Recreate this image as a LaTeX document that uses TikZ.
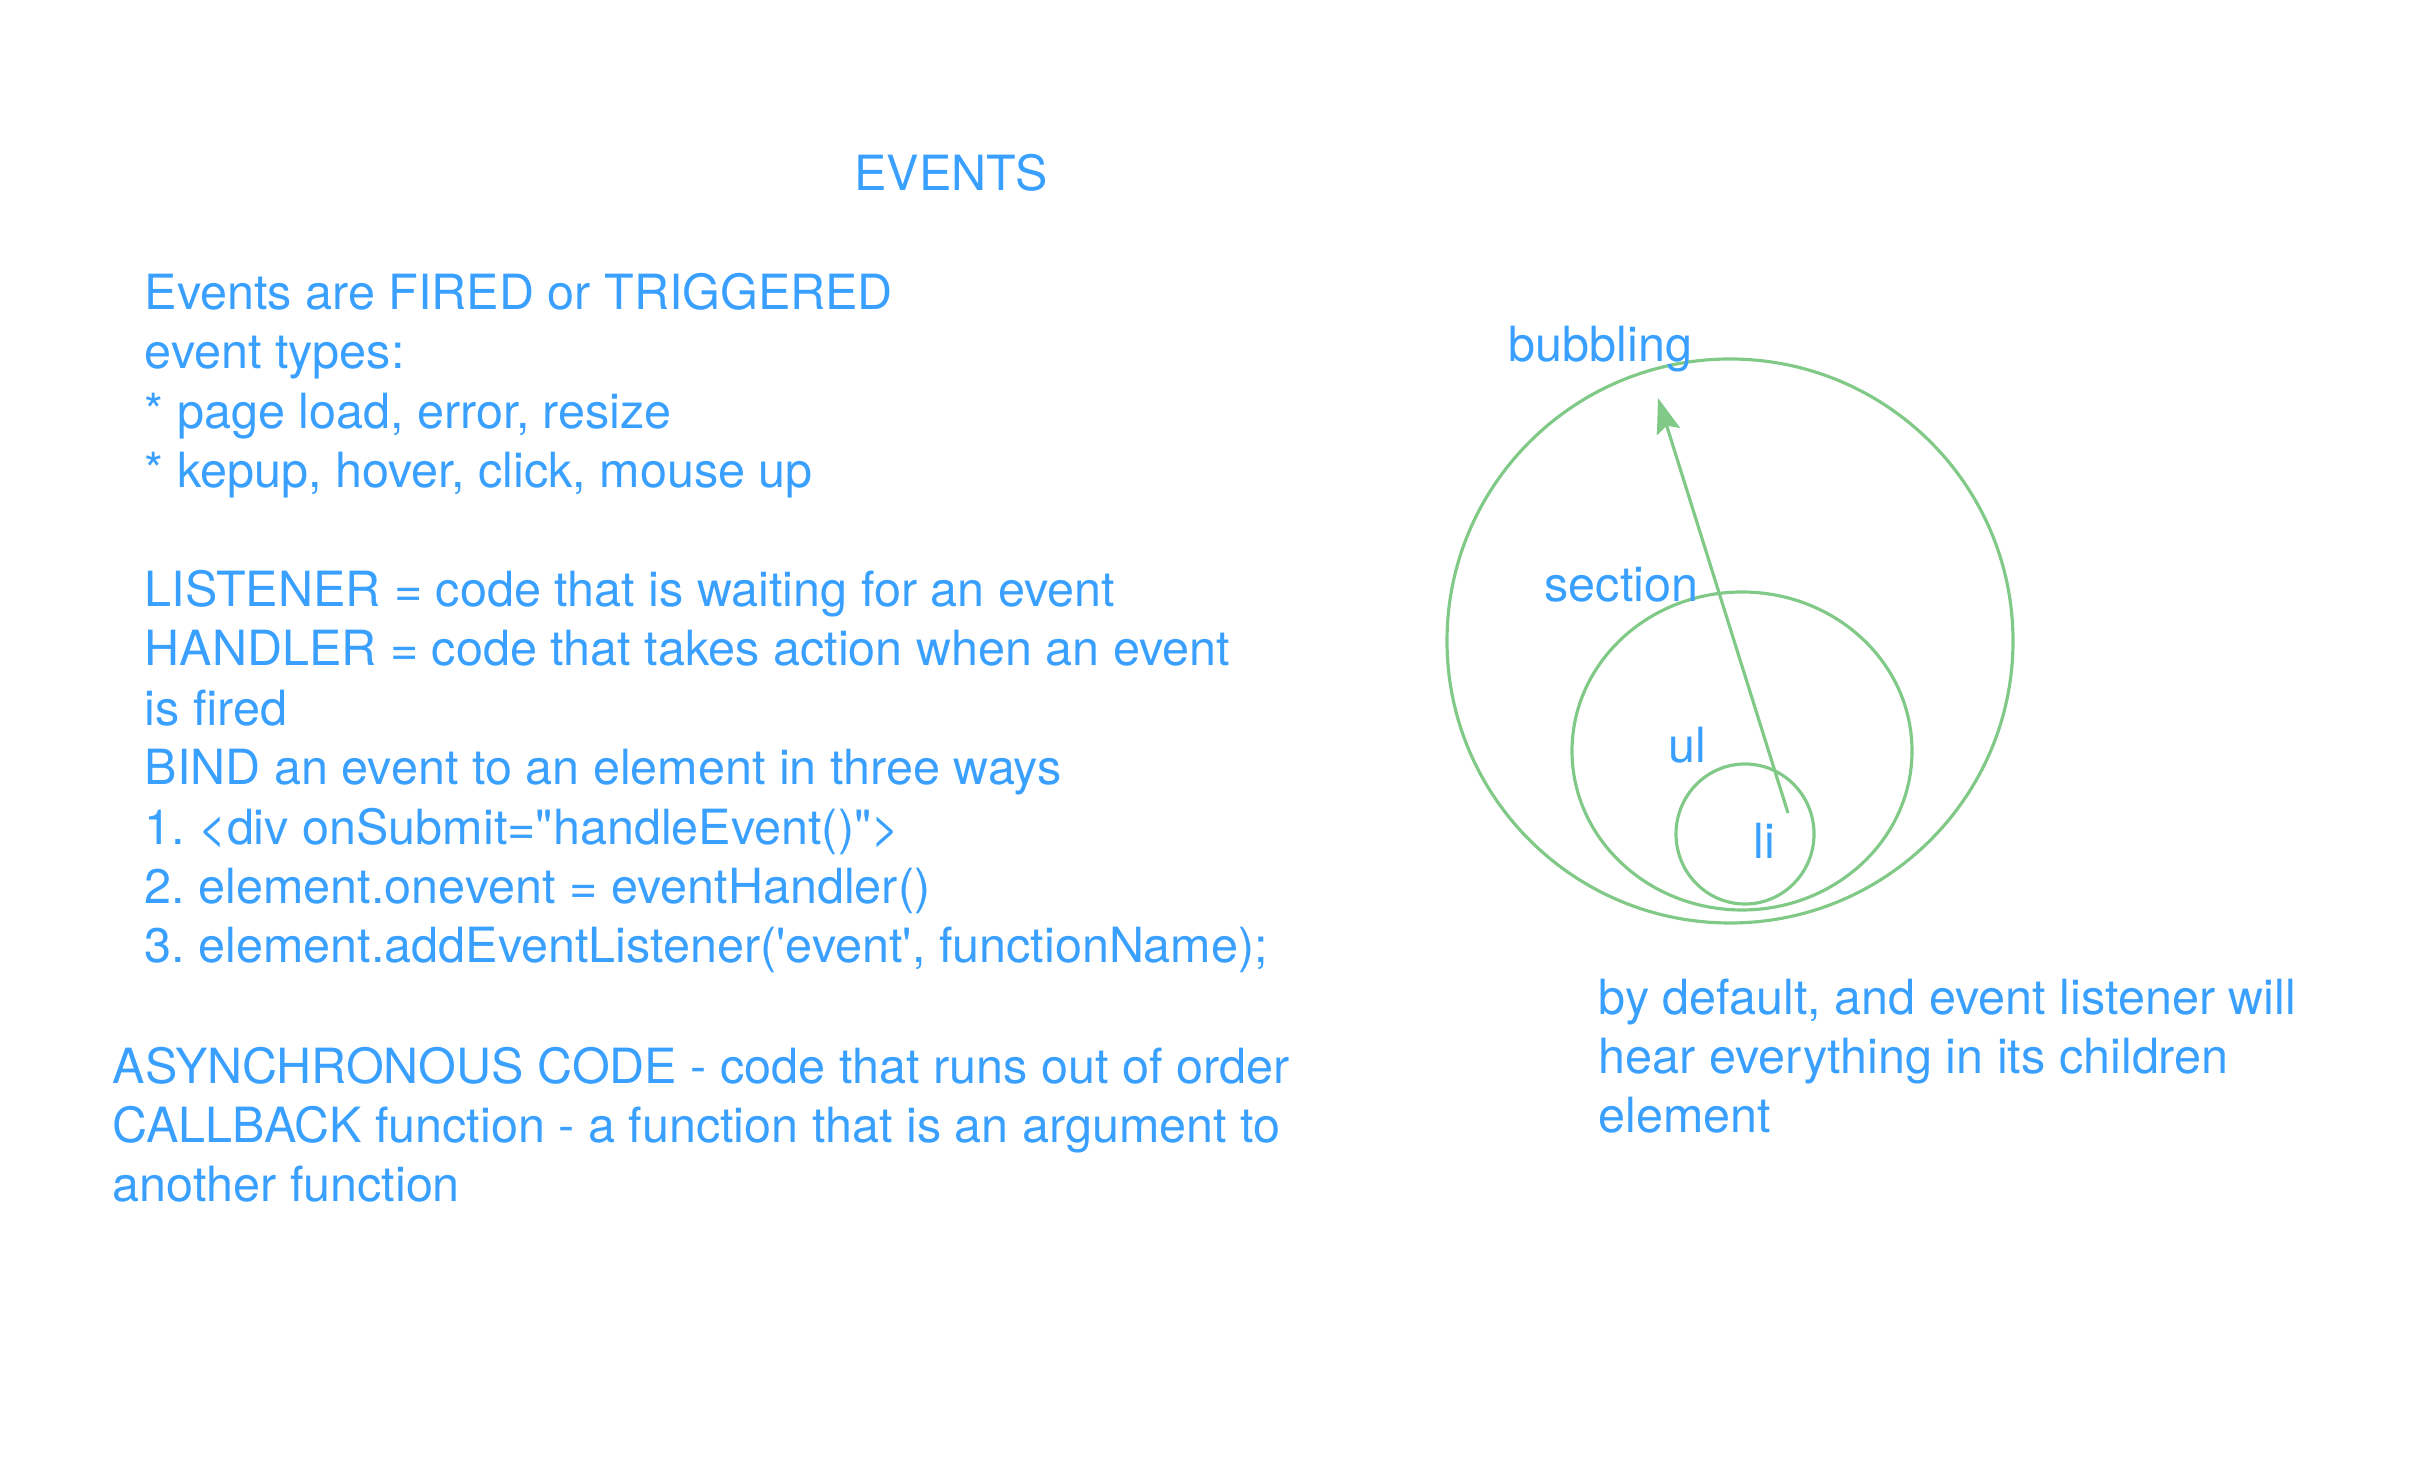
\documentclass[tikz,border=0pt]{standalone}
\usepackage{fontspec}
\usetikzlibrary{arrows.meta}
\newfontfamily\notefont{TeX Gyre Heros}
\definecolor{noteblue}{RGB}{58,160,255}
\definecolor{bubblegreen}{RGB}{128,201,135}

\begin{document}
\frenchspacing
\begin{tikzpicture}[x = 0.01cm, y = -0.01cm,
    note/.style = {text = noteblue, font = \notefont\fontsize{13.8}{16.9}\selectfont,
      inner sep = 0pt, align = left, anchor = base west},
    bubble/.style = {draw = bubblegreen, line width = 0.9pt}]
  \useasboundingbox (0, 0) rectangle (2424, 1474);

  % notes on the left (placed by the baseline of their last line)
  \node[note, anchor = base] (title) at (951, 191) {EVENTS};
  \node[note] (basics) at (144, 963) {Events are FIRED or TRIGGERED\\
    event types:\\
    * page load, error, resize\\
    * kepup, hover, click, mouse up\\
    \mbox{}\\
    LISTENER = code that is waiting for an event\\
    HANDLER = code that takes action when an event\\
    is fired\\
    BIND an event to an element in three ways\\
    1. <div onSubmit="handleEvent()">\\
    2. element.onevent = eventHandler()\\
    3. element.addEventListener('event', functionName);};
  \node[note] (async) at (112, 1202) {ASYNCHRONOUS CODE - code that runs out of order\\
    CALLBACK function - a function that is an argument to\\
    another function};

  % nested elements
  \draw[bubble] (1730, 641) ellipse [x radius = 283, y radius = 282];
  \draw[bubble] (1742, 751) ellipse [x radius = 170, y radius = 159];
  \draw[bubble] (1745, 834) ellipse [x radius = 69, y radius = 70];
  \coordinate (listart) at (1788, 813);
  \coordinate (bubbletop) at (1658, 398);
  \draw[bubble, -{Stealth[length = 3.5mm, width = 2.4mm, inset = 0.6mm]}] (listart) -- (bubbletop);

  \node[note] (bubbling) at (1508, 362) {bubbling};
  \node[note] (section) at (1544, 602) {section};
  \node[note] (ul) at (1668, 763) {ul};
  \node[note] (li) at (1753, 859) {li};

  \node[note] (default) at (1598, 1133) {by default, and event listener will\\
    hear everything in its children\\
    element};
\end{tikzpicture}
\end{document}
